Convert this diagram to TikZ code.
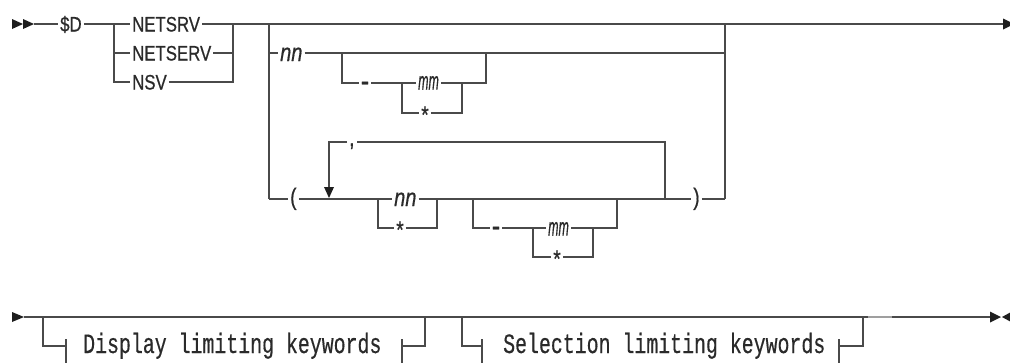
\documentclass[tikz,border=0pt]{standalone}
\usepackage{fontspec}
\newfontfamily\kw{Liberation Sans}[FakeStretch=0.8,FakeBold=0.6]
\newfontfamily\mono{Liberation Mono}[FakeStretch=0.71,FakeBold=0.4]
\definecolor{ln}{HTML}{4A4A4A}
\definecolor{tx}{HTML}{2A2A2A}
\definecolor{ah}{HTML}{1E1E1E}
\begin{document}
\begin{tikzpicture}[x=1pt,y=-1pt]
\tikzset{
  rail/.style={draw=ln, line width=1.3pt},
  kwd/.style={inner xsep=2pt, inner ysep=0pt, anchor=base west, text=tx, font=\kw\fontsize{21}{22}\selectfont},
  var/.style={inner xsep=2pt, inner ysep=0pt, anchor=base west, text=tx, font=\kw\itshape\fontsize{25}{25}\selectfont},
  sym/.style={inner xsep=2pt, inner ysep=0pt, anchor=base, text=tx, font=\kw\fontsize{24}{24}\selectfont},
  hyph/.style={inner xsep=2pt, inner ysep=0pt, anchor=base, text=tx, font=\kw\fontsize{32}{32}\selectfont},
  frag/.style={inner xsep=0pt, inner ysep=0pt, anchor=base west, text=tx, font=\mono\fontsize{28}{28}\selectfont},
  tip/.style={fill=ah, draw=none},
}
\useasboundingbox (0,0) rectangle (1010,362);
\clip (0,0) rectangle (1010,362);

% ---------------- row 1 ----------------
\coordinate (s) at (34,24);
\coordinate (e1) at (1003,24);
\fill[tip] (12,19) -- (23,24) -- (12,29) -- cycle;
\fill[tip] (23,19) -- (34,24) -- (23,29) -- cycle;
\fill[tip] (1003,18.5) -- (1014,24) -- (1003,29.5) -- cycle;

\node[kwd] (D) at (58,31.5) {\$D};
\node[kwd] (netsrv) at (130,31.5) {NETSRV};
\node[kwd] (netserv) at (130,60.5) {NETSERV};
\node[kwd] (nsv) at (130,89.5) {NSV};

\coordinate (b1L) at (114,24);
\coordinate (b1L2) at (114,53);
\coordinate (b1L3) at (114,82);
\coordinate (b1R) at (233,24);
\coordinate (b1R2) at (233,53);
\coordinate (b1R3) at (233,82);

\draw[rail] (s) -- (D.west |- s);
\draw[rail] (D.east |- s) -- (netsrv.west |- s);
\draw[rail] (b1L) -- (b1L3) -- (nsv.west |- b1L3);
\draw[rail] (b1L2) -- (netserv.west |- b1L2);
\draw[rail] (netsrv.east |- s) -- (e1);
\draw[rail] (netserv.east |- b1L2) -- (b1R2);
\draw[rail] (nsv.east |- b1L3) -- (b1R3) -- (b1R);

% second group
\coordinate (b2L) at (269,24);
\coordinate (b2L2) at (269,53);
\coordinate (b2L3) at (269,199);
\coordinate (b2R) at (725,24);
\coordinate (b2R2) at (725,53);
\coordinate (b2R3) at (725,199);

\node[var] (nn1) at (278,61) {nn};
\draw[rail] (b2L) -- (b2L3);
\draw[rail] (b2L2) -- (nn1.west |- b2L2);
\draw[rail] (nn1.east |- b2L2) -- (b2R2);
\draw[rail] (b2R) -- (b2R3);

% optional - mm / *
\coordinate (c1L) at (342,53);
\coordinate (c1L2) at (342,83);
\coordinate (c1R) at (486,53);
\coordinate (c1R2) at (486,83);
\coordinate (d1L) at (402,83);
\coordinate (d1L2) at (402,113);
\coordinate (d1R) at (462,83);
\coordinate (d1R2) at (462,113);
\node[hyph] (dash1) at (365,91.5) {-};
\node[var] (mm1) at (416,89.5) {\scalebox{0.62}[1]{mm}};
\node[sym] (st1) at (425,123) {*};
\draw[rail] (c1L) -- (c1L2) -- (dash1.west |- c1L2);
\draw[rail] (dash1.east |- c1L2) -- (mm1.west |- c1L2);
\draw[rail] (mm1.east |- c1L2) -- (c1R2) -- (c1R);
\draw[rail] (d1L) -- (d1L2) -- (st1.west |- d1L2);
\draw[rail] (st1.east |- d1L2) -- (d1R2) -- (d1R);

% ( ... ) list with repeat
\coordinate (lt) at (329,142);
\coordinate (lb) at (329,199);
\coordinate (g) at (665,199);
\coordinate (g2) at (665,142);
\coordinate (e1L) at (378,199);
\coordinate (e1L2) at (378,228);
\coordinate (e1R) at (437,199);
\coordinate (e1R2) at (437,228);
\coordinate (f1L) at (473,199);
\coordinate (f1L2) at (473,228);
\coordinate (f1R) at (617,199);
\coordinate (f1R2) at (617,228);
\coordinate (h1L) at (533,228);
\coordinate (h1L2) at (533,257);
\coordinate (h1R) at (593,228);
\coordinate (h1R2) at (593,257);

\node[sym, anchor=base west] (lp) at (288,205) {(};
\node[sym, anchor=base west] (rp) at (691,205) {)};
\node[sym, anchor=base west] (comma) at (347,146) {,};
\node[var] (nn2) at (392,206) {nn};
\node[sym] (st2) at (400,238) {*};
\node[hyph] (dash2) at (496,236.5) {-};
\node[var] (mm2) at (546,235.5) {\scalebox{0.62}[1]{mm}};
\node[sym] (st3) at (557,267) {*};

\draw[rail] (b2L3) -- (lp.west |- b2L3);
\draw[rail] (lp.east |- b2L3) -- (nn2.west |- b2L3);
\draw[rail] (nn2.east |- b2L3) -- (rp.west |- b2L3);
\draw[rail] (rp.east |- b2L3) -- (b2R3);
\draw[rail] (e1L) -- (e1L2) -- (st2.west |- e1L2);
\draw[rail] (st2.east |- e1L2) -- (e1R2) -- (e1R);
\draw[rail] (f1L) -- (f1L2) -- (dash2.west |- f1L2);
\draw[rail] (dash2.east |- f1L2) -- (mm2.west |- f1L2);
\draw[rail] (mm2.east |- f1L2) -- (f1R2) -- (f1R);
\draw[rail] (h1L) -- (h1L2) -- (st3.west |- h1L2);
\draw[rail] (st3.east |- h1L2) -- (h1R2) -- (h1R);
\draw[rail] (g) -- (g2) -- (comma.east |- g2);
\draw[rail] (comma.west |- g2) -- (lt) -- (329,189);
\fill[tip] (324,187) -- (334,187) -- (329,198) -- cycle;

% ---------------- row 2 ----------------
\coordinate (s2) at (24,317);
\coordinate (e2) at (990,317);
\fill[tip] (12,312) -- (24,317) -- (12,322) -- cycle;
\fill[tip] (990,311.5) -- (1001,317) -- (990,322.5) -- cycle;
\fill[tip] (1012,311.5) -- (1002,317) -- (1012,322.5) -- cycle;
\draw[rail] (s2) -- (e2);
\draw[draw=gray!75, line width=1.3pt] (868,317) -- (892,317);

\coordinate (i1L) at (43,317);
\coordinate (i1L2) at (43,346);
\coordinate (i1R) at (425,317);
\coordinate (i1R2) at (425,346);
\coordinate (j1L) at (462,317);
\coordinate (j1L2) at (462,346);
\coordinate (j1R) at (863,317);
\coordinate (j1R2) at (863,346);

\node[frag] (disp) at (83,353) {Display limiting keywords};
\node[frag] (sel) at (503,353) {Selection limiting keywords};

\coordinate (t1) at (66,346);
\coordinate (t2) at (402,346);
\coordinate (t3) at (482,346);
\coordinate (t4) at (839,346);

\draw[rail] (i1L) -- (i1L2) -- (t1);
\draw[rail] (66,339) -- (66,366);
\draw[rail] (402,339) -- (402,366);
\draw[rail] (t2) -- (i1R2) -- (i1R);
\draw[rail] (j1L) -- (j1L2) -- (t3);
\draw[rail] (482,339) -- (482,366);
\draw[rail] (839,339) -- (839,366);
\draw[rail] (t4) -- (j1R2) -- (j1R);
\end{tikzpicture}
\end{document}
